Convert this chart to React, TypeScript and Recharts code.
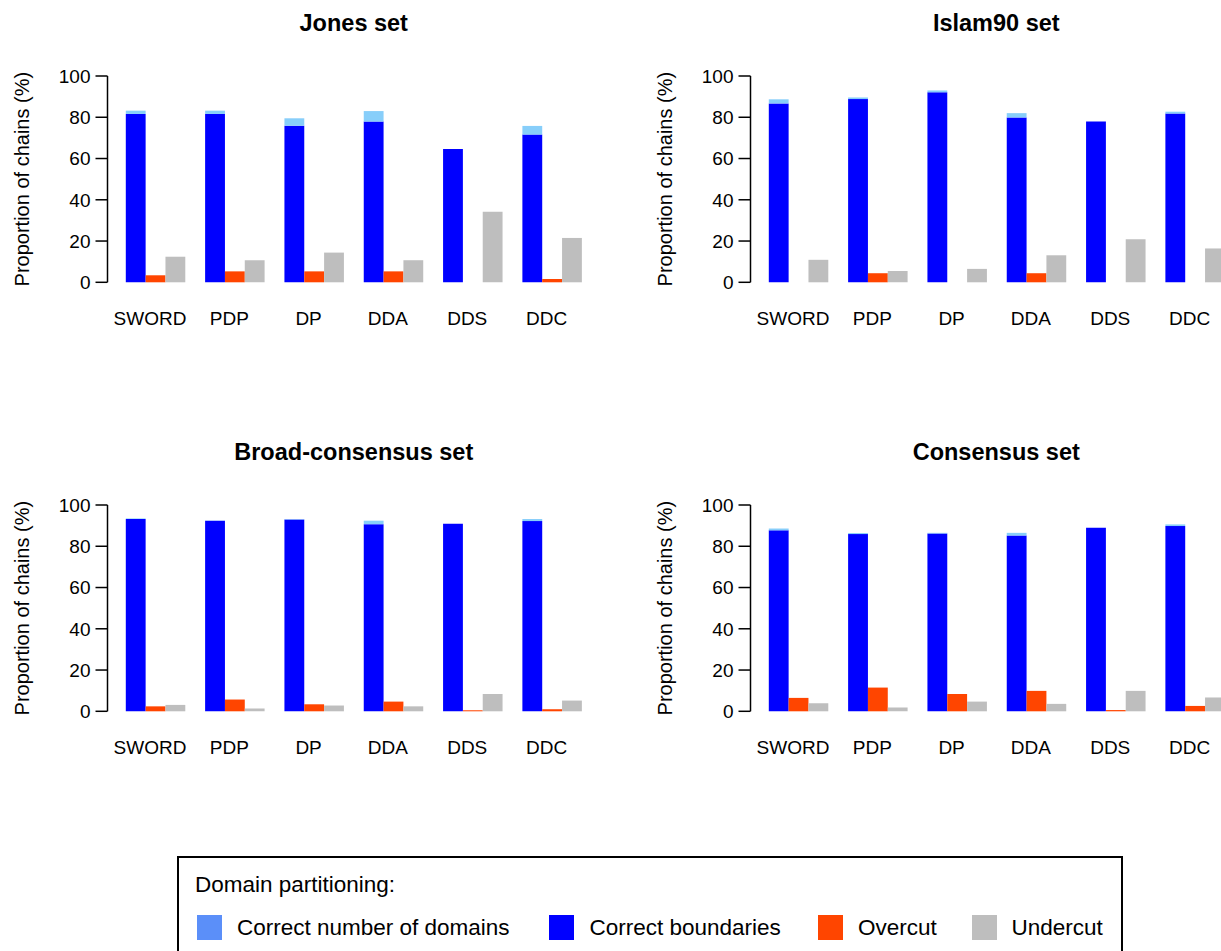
import { Bar, BarChart, XAxis, YAxis } from 'recharts'

const methods = ['SWORD', 'PDP', 'DP', 'DDA', 'DDS', 'DDC']
const yTicks = [0, 20, 40, 60, 80, 100]

// percentages of chains per method, one set of arrays per benchmark
const jonesBoundaries = [81.6, 81.6, 75.9, 77.9, 64.6, 71.6]
const jonesDomainCount = [83.2, 83.2, 79.5, 83.0, 64.6, 75.8]
const jonesOvercut = [3.4, 5.3, 5.3, 5.3, 0, 1.6]
const jonesUndercut = [12.4, 10.7, 14.4, 10.7, 34.2, 21.5]

const islamBoundaries = [86.7, 88.8, 92.1, 79.9, 78.0, 81.8]
const islamDomainCount = [88.7, 89.6, 93.0, 82.0, 78.0, 82.7]
const islamOvercut = [0, 4.4, 0, 4.4, 0, 0]
const islamUndercut = [10.9, 5.5, 6.5, 13.1, 20.9, 16.4]

const broadBoundaries = [93.2, 92.4, 93.0, 90.7, 90.9, 92.2]
const broadDomainCount = [93.5, 92.5, 93.2, 92.4, 90.9, 93.2]
const broadOvercut = [2.4, 5.7, 3.4, 4.7, 0.5, 1.0]
const broadUndercut = [3.1, 1.3, 2.8, 2.4, 8.4, 5.2]

const consBoundaries = [87.7, 85.9, 86.2, 85.2, 89.0, 89.8]
const consDomainCount = [88.6, 86.4, 86.5, 86.5, 89.0, 90.6]
const consOvercut = [6.5, 11.5, 8.4, 9.9, 0.6, 2.6]
const consUndercut = [3.9, 1.8, 4.7, 3.6, 9.9, 6.7]

const COLORS = {
  count: '#87cefa',
  countKey: '#5b8ff9',
  boundaries: '#0000ff',
  overcut: '#ff4500',
  undercut: '#bebebe',
}

const FONT = '"Liberation Sans", Arial, Helvetica, sans-serif'

type Row = {
  method: string
  boundaries: number
  extra: number
  overcut: number
  undercut: number
}

function buildRows(
  boundaries: number[],
  domainCount: number[],
  overcut: number[],
  undercut: number[],
): Row[] {
  return methods.map((method, i) => ({
    method,
    boundaries: boundaries[i],
    // light segment sits on top of the dark one, up to the domain-count share
    extra: Math.max(0, domainCount[i] - boundaries[i]),
    overcut: overcut[i],
    undercut: undercut[i],
  }))
}

function MethodTick(props: any) {
  const { x, y, payload } = props
  return (
    <text x={x - 5.5} y={y + 35} textAnchor="middle" fontSize={19} fill="#000" fontFamily={FONT}>
      {payload.value}
    </text>
  )
}

function Panel({ title, rows, left, top }: { title: string; rows: Row[]; left: number; top: number }) {
  return (
    <div style={{ position: 'absolute', left, top, width: 610, height: 340 }}>
      <div
        style={{
          position: 'absolute',
          left: 153.75,
          top: 12.1,
          width: 400,
          textAlign: 'center',
          fontWeight: 'bold',
          fontSize: 23.5,
          lineHeight: '23.5px',
        }}
      >
        {title}
      </div>
      <BarChart
        width={610}
        height={340}
        data={rows}
        margin={{ top: 76, right: 10, bottom: 0, left: 0 }}
        barCategoryGap="12.5%"
        barGap={0}
        barSize={19.83}
      >
        <XAxis
          dataKey="method"
          axisLine={false}
          tickLine={false}
          interval={0}
          height={57.7}
          padding={{ left: 8.3, right: 8.3 }}
          tick={<MethodTick />}
        />
        <YAxis
          domain={[0, 100]}
          ticks={yTicks}
          width={107.5}
          tickSize={12}
          tickMargin={5}
          axisLine={{ stroke: '#000', strokeWidth: 1.5 }}
          tickLine={{ stroke: '#000', strokeWidth: 1.5 }}
          tick={{ fontSize: 19, fill: '#000' }}
          label={{
            value: 'Proportion of chains (%)',
            angle: -90,
            position: 'insideLeft',
            offset: 22,
            fontSize: 20,
            fill: '#000',
            style: { textAnchor: 'middle' },
          }}
        />
        <Bar dataKey="boundaries" stackId="blue" fill={COLORS.boundaries} isAnimationActive={false} />
        <Bar dataKey="extra" stackId="blue" fill={COLORS.count} isAnimationActive={false} />
        <Bar dataKey="overcut" fill={COLORS.overcut} isAnimationActive={false} />
        <Bar dataKey="undercut" fill={COLORS.undercut} isAnimationActive={false} />
      </BarChart>
    </div>
  )
}

const legendItems = [
  { label: 'Correct number of domains', color: COLORS.countKey, box: 196.7, text: 237 },
  { label: 'Correct boundaries', color: COLORS.boundaries, box: 549.3, text: 589.5 },
  { label: 'Overcut', color: COLORS.overcut, box: 818.3, text: 858 },
  { label: 'Undercut', color: COLORS.undercut, box: 972, text: 1011.5 },
]

const legendText = { position: 'absolute' as const, fontSize: 22.5, lineHeight: '22.5px', whiteSpace: 'nowrap' as const }

export default function App() {
  return (
    <div
      style={{
        position: 'fixed',
        left: 0,
        top: 0,
        width: 1221,
        height: 951,
        overflow: 'hidden',
        background: '#fff',
        fontFamily: FONT,
        color: '#000',
      }}
    >
      <Panel title="Jones set" left={0} top={0} rows={buildRows(jonesBoundaries, jonesDomainCount, jonesOvercut, jonesUndercut)} />
      <Panel title="Islam90 set" left={642.5} top={0} rows={buildRows(islamBoundaries, islamDomainCount, islamOvercut, islamUndercut)} />
      <Panel title="Broad-consensus set" left={0} top={429} rows={buildRows(broadBoundaries, broadDomainCount, broadOvercut, broadUndercut)} />
      <Panel title="Consensus set" left={642.5} top={429} rows={buildRows(consBoundaries, consDomainCount, consOvercut, consUndercut)} />

      <div
        style={{
          position: 'absolute',
          left: 177.3,
          top: 856,
          width: 942,
          height: 120,
          border: '2px solid #000',
        }}
      />
      <span style={{ ...legendText, left: 195, top: 873.8 }}>Domain partitioning:</span>
      {legendItems.map((item) => (
        <div key={item.label}>
          <div style={{ position: 'absolute', left: item.box, top: 915, width: 25, height: 25, background: item.color }} />
          <span style={{ ...legendText, left: item.text, top: 917 }}>{item.label}</span>
        </div>
      ))}
    </div>
  )
}
